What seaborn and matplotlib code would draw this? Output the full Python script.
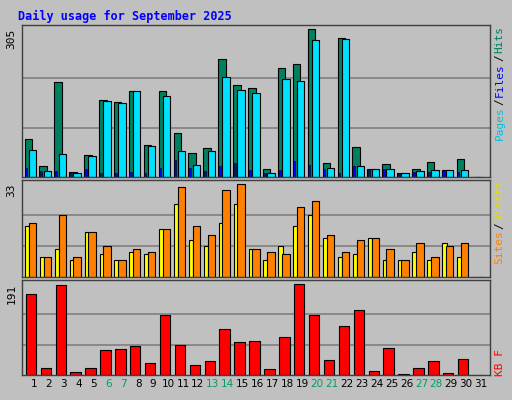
import numpy as np
import matplotlib.pyplot as plt
import seaborn as sns

days = list(range(1, 32))
hits = [78, 22, 196, 10, 45, 159, 155, 177, 66, 177, 90, 49, 59, 244, 190, 184, 16, 225, 233, 305,
        28, 287, 61, 16, 26, 8, 16, 30, 14, 37, 0]
files = [55, 12, 47, 8, 43, 157, 153, 177, 63, 167, 53, 24, 53, 206, 179, 173, 8, 202, 198, 283,
         18, 285, 22, 16, 16, 8, 12, 14, 14, 14, 0]
pages = [18, 12, 12, 8, 16, 8, 8, 10, 8, 18, 35, 18, 12, 22, 28, 14, 8, 14, 32, 24,
         16, 8, 22, 16, 16, 8, 10, 10, 12, 10, 0]
sites = [18, 7, 10, 6, 16, 8, 6, 9, 8, 17, 26, 13, 11, 19, 26, 10, 6, 11, 18, 22,
         14, 7, 8, 14, 6, 6, 9, 6, 12, 7, 0]
visits = [19, 7, 22, 7, 16, 11, 6, 10, 9, 17, 32, 18, 15, 31, 33, 10, 9, 8, 25, 27,
          15, 9, 13, 14, 10, 6, 12, 7, 11, 12, 0]
kbytes = [170, 14, 189, 6, 14, 53, 55, 61, 25, 125, 63, 21, 29, 97, 70, 72, 12, 80, 191, 125,
          31, 102, 136, 8, 57, 2, 14, 29, 4, 33, 0]
weekends = [6, 7, 13, 14, 20, 21, 27, 28]

sns.set_style("white")
plt.rcParams['font.family'] = ['DejaVu Sans Mono', 'DejaVu Sans']

bg = '#C0C0C0'
fig = plt.figure(figsize=(5.12, 4.0), dpi=100, facecolor=bg)
fig.text(0.035, 0.975, "Daily usage for September 2025", color='#0000FF', fontsize=8.5,
         fontweight='bold', va='top', ha='left')

x = np.array(days, dtype=float)
left, width = 22 / 512, 468 / 512
ax1 = fig.add_axes([left, 0.5575, width, 0.38])
ax2 = fig.add_axes([left, 0.3075, width, 0.2425])
ax3 = fig.add_axes([left, 0.0625, width, 0.2375])

def style(ax, top, label):
    ax.set_facecolor(bg)
    ax.set_xlim(0.2, 31.6)
    ax.set_ylim(0, top)
    for v in (label / 3, label * 2 / 3):
        ax.axhline(v, color='#808080', lw=1.2, zorder=0)
    ax.set_yticks([])
    for s in ax.spines.values():
        s.set_color('#404040')
        s.set_linewidth(1)
    ax.text(-0.012, label / top, str(label), transform=ax.transAxes, rotation=90,
            ha='right', va='top', fontsize=8, color='black')

ek = dict(edgecolor='black', linewidth=0.8)
ax1.bar(x - 0.38, hits, width=0.5, color='#008060', **ek)
ax1.bar(x - 0.1, files, width=0.5, color='#00E0FF', **ek)
ax1.bar(x - 0.52, pages, width=0.14, color='#0000FF', edgecolor='black', linewidth=0.4)
style(ax1, 313, 305)
ax1.set_xticks([])

ax2.bar(x - 0.45, sites, width=0.3, color='#FFFF00', **ek)
ax2.bar(x - 0.1, visits, width=0.5, color='#FF8000', **ek)
style(ax2, 34.4, 33)
ax2.set_xticks([])

ax3.bar(x - 0.2, kbytes, width=0.7, color='#FF0000', **ek)
style(ax3, 199, 191)
ax3.set_xticks(days)
ax3.set_xticklabels([str(d) for d in days], fontsize=7.5, family='DejaVu Sans')
ax3.tick_params(axis='x', length=0, pad=3)
for t, d in zip(ax3.get_xticklabels(), days):
    t.set_color('#00A060' if d in weekends else 'black')

# right side labels, stacked top to bottom using measured text heights
renderer = fig.canvas.get_renderer()

def side(y_top, parts):
    y = y_top
    for txt, col in parts:
        t = fig.text(0.976, y, txt, rotation=90, color=col, fontsize=8, va='top', ha='center')
        bb = t.get_window_extent(renderer)
        y -= bb.height / fig.bbox.height + 0.004

side(0.935, [("Hits", '#008060'), ("/", 'black'), ("Files", '#0000FF'),
             ("/", 'black'), ("Pages", '#00C0E0')])
side(0.55, [("Visits", '#E0E000'), ("/", 'black'), ("Sites", '#FF8000')])
fig.text(0.976, 0.06, "KB F", rotation=90, color='#FF0000', fontsize=8, va='bottom', ha='center')

fig.savefig('out.png', facecolor=bg)
